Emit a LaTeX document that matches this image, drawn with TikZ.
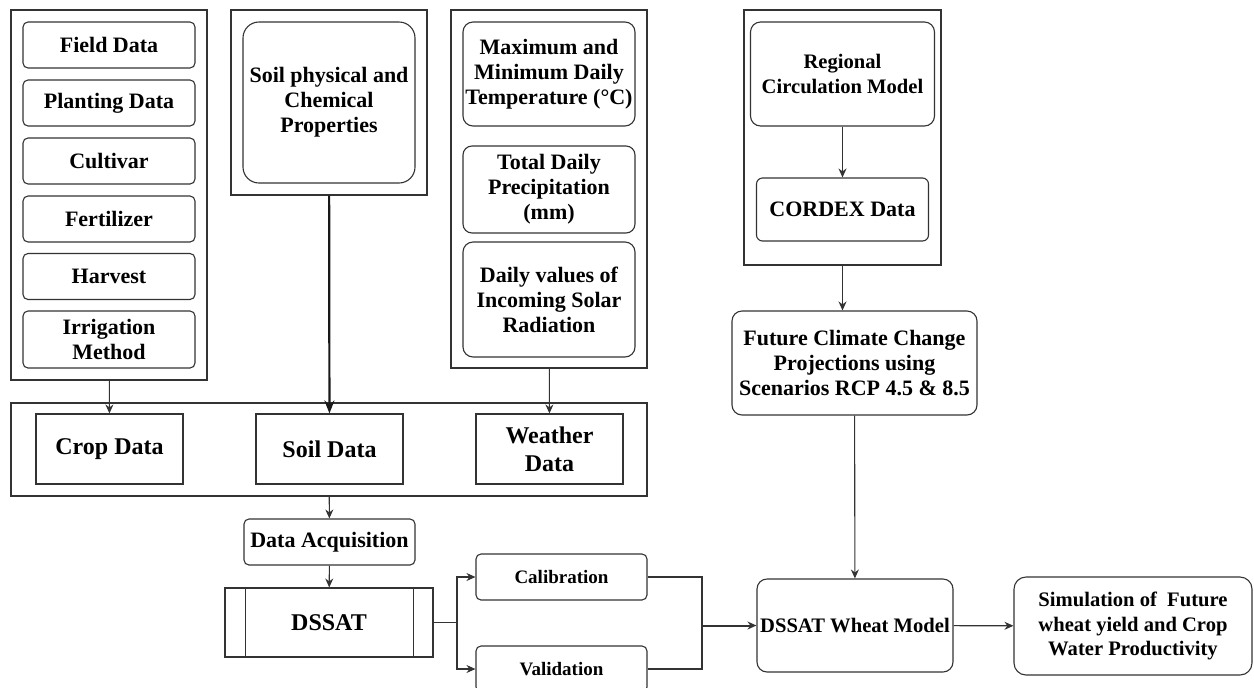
\documentclass[tikz,border=0pt]{standalone}
\usepackage{fontspec}
\setmainfont{Liberation Serif}
\usepackage{tikz}
\usetikzlibrary{
  arrows.meta,
  positioning,
  calc
}
\colorlet{edgecol}{black!80}
\tikzset{
  grpbox/.style={
    rectangle, draw=edgecol, line width=0.55pt, inner sep=0pt
  },
  inbox/.style={
    rectangle, rounded corners=2.5pt, draw=edgecol, line width=0.55pt,
    minimum width=86pt, minimum height=23pt, inner sep=1pt,
    align=center, font=\fontsize{11}{12.5}\selectfont\bfseries
  },
  datablock/.style={
    rectangle, draw=edgecol, line width=0.55pt,
    minimum width=73.5pt, minimum height=35pt, inner sep=1pt,
    align=center, font=\fontsize{12}{14}\selectfont\bfseries
  },
  smallfont/.style={font=\fontsize{9.5}{11}\selectfont\bfseries},
  midfont/.style={font=\fontsize{10.3}{12.25}\selectfont\bfseries},
  arrow/.style={-{Stealth[length=4.5pt,width=4pt]}, line width=0.55pt, draw=edgecol},
  bigarrow/.style={-{Stealth[length=6.5pt,width=5pt]}, line width=1.1pt, draw=black!90},
  conn/.style={line width=0.55pt, draw=edgecol}
}

\begin{document}
\begin{tikzpicture}[x=0.5pt, y=-0.5pt]
\useasboundingbox (0,0) rectangle (1254,687);

% Crop inputs
\node[grpbox, minimum width=98pt, minimum height=185pt] (cropgrp) at (109,195) {};
\node[inbox] (field) at (109,45) {Field Data};
\node[inbox] (plant) at (109,103) {Planting Data};
\node[inbox] (cult) at (109,161) {Cultivar};
\node[inbox] (fert) at (109,219) {Fertilizer};
\node[inbox] (harv) at (109,276.5) {Harvest};
\node[inbox, minimum height=28.5pt] (irrig) at (109,339.5) {Irrigation\\Method};

% Soil inputs
\node[grpbox, minimum width=98pt, minimum height=92.5pt] (soilgrp) at (329,102.5) {};
\node[inbox, rounded corners=8pt, minimum height=80.5pt] (soilprop) at (329,102.5)
  {Soil physical and\\Chemical\\Properties};

% Weather inputs
\node[grpbox, minimum width=98pt, minimum height=179pt] (wthgrp) at (549,189) {};
\node[inbox, rounded corners=5pt, minimum height=52pt] (tmax) at (549,74)
  {Maximum and\\Minimum Daily\\Temperature (°C)};
\node[inbox, rounded corners=4.5pt, minimum height=43.5pt] (prec) at (549,189.5)
  {Total Daily\\Precipitation\\(mm)};
\node[inbox, rounded corners=5pt, minimum height=57.5pt] (srad) at (549,299.5)
  {Daily values of\\Incoming Solar\\Radiation};

% Climate model
\node[grpbox, minimum width=98.5pt, minimum height=127.5pt] (rcmgrp) at (842.5,137.5) {};
\node[inbox, midfont, rounded corners=5pt, minimum width=92pt, minimum height=52pt]
  (rcm) at (842.5,74) {Regional\\Circulation Model};
\node[inbox, rounded corners=3pt, minimum width=86pt, minimum height=31.5pt]
  (cordex) at (842.5,209.5) {CORDEX Data};
\draw[arrow] (rcm) -- (cordex);

% Projections
\node[inbox, rounded corners=5pt, minimum width=122.5pt, minimum height=52pt]
  (future) at (854.5,363) {Future Climate Change\\Projections using\\Scenarios RCP 4.5 \& 8.5};
\draw[arrow] (rcmgrp.south) -- (rcmgrp.south |- future.north);

% Model data
\node[grpbox, minimum width=318pt, minimum height=46.5pt] (datagrp) at (329,449.5) {};
\node[datablock] (cropdata) at (109.5,449) {Crop Data};
\node[datablock] (soildata) at (329.5,449) {Soil Data};
\node[datablock] (wthdata) at (549.5,449) {Weather\\Data};
\draw[arrow] (cropgrp) -- (cropdata);
\draw[bigarrow] (soilgrp) -- (soildata);
\draw[arrow] (wthgrp) -- (wthdata);

% DSSAT
\node[inbox, minimum width=85.5pt] (acq) at (329.5,542) {Data Acquisition};
\draw[arrow] (datagrp) -- (acq);
\node[datablock, minimum width=104pt, minimum height=34.5pt] (dssat) at (329,622.5) {DSSAT};
\draw[conn] ([xshift=10.5pt]dssat.north west) -- ([xshift=10.5pt]dssat.south west);
\draw[conn] ([xshift=-10pt]dssat.north east) -- ([xshift=-10pt]dssat.south east);
\draw[arrow] (acq) -- (dssat);

% Calibration and validation
\node[inbox, smallfont, minimum width=85.5pt] (calib) at (561.5,577) {Calibration};
\node[inbox, smallfont, minimum width=85.5pt] (valid) at (561.5,669) {Validation};
\coordinate (split) at (457,622.5);
\draw[conn] (dssat.east) -- (split);
\draw[arrow] (split) |- (calib.west);
\draw[arrow] (split) |- (valid.west);

% Wheat model
\node[inbox, midfont, inner sep=0.5pt, rounded corners=5pt, minimum width=98pt,
      minimum height=46.5pt] (wheat) at (855,625.5) {DSSAT Wheat Model};
\coordinate (join) at (702,625.5);
\draw[conn] (calib.east) -| (join) |- (valid.east);
\draw[arrow, line width=1pt] (join) -- (wheat.west);
\draw[arrow] (future) -- (wheat);

% Output
\node[inbox, midfont, rounded corners=6pt, minimum width=119pt, minimum height=49pt]
  (output) at (1133,626) {Simulation of~ Future\\wheat yield and Crop\\Water Productivity};
\draw[arrow] (wheat) -- (output);

\end{tikzpicture}
\end{document}
